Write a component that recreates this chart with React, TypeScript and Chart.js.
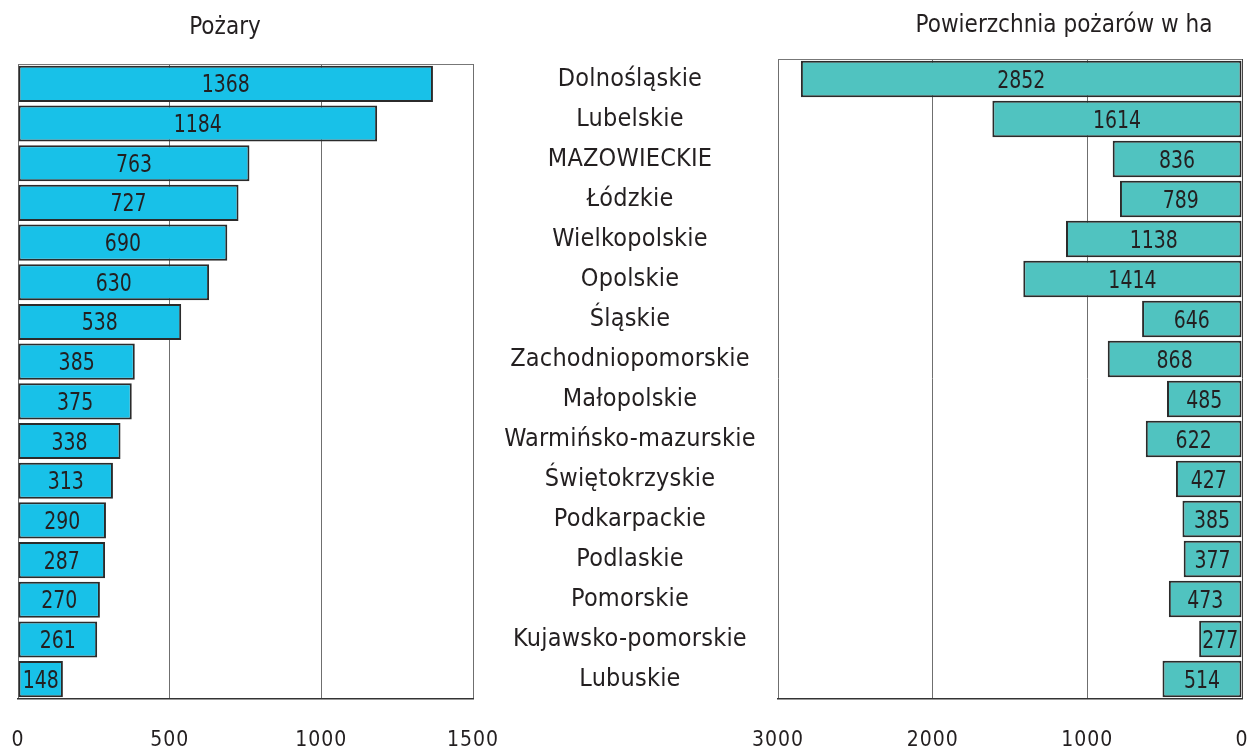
import React, { useEffect, useRef } from 'react';
import { Chart, registerables } from 'chart.js';

Chart.register(...registerables);

const regions = [
  'Dolnośląskie',
  'Lubelskie',
  'MAZOWIECKIE',
  'Łódzkie',
  'Wielkopolskie',
  'Opolskie',
  'Śląskie',
  'Zachodniopomorskie',
  'Małopolskie',
  'Warmińsko-mazurskie',
  'Świętokrzyskie',
  'Podkarpackie',
  'Podlaskie',
  'Pomorskie',
  'Kujawsko-pomorskie',
  'Lubuskie',
];
const fireCounts = [1368, 1184, 763, 727, 690, 630, 538, 385, 375, 338, 313, 290, 287, 270, 261, 148];
const burnedArea = [2852, 1614, 836, 789, 1138, 1414, 646, 868, 485, 622, 427, 385, 377, 473, 277, 514];
const fireTicks = [0, 500, 1000, 1500];
const areaTicks = [0, 1000, 2000, 3000];
const fireTitle = 'Pożary';
const areaTitle = 'Powierzchnia pożarów w ha';

const FONT = '"DejaVu Sans Condensed", "Liberation Sans Narrow", sans-serif';
const TEXT = '#231f20';
const CAT_SIZE = 25;

const spacingPlugin = {
  id: 'spacing',
  beforeDraw(chart: any) {
    chart.ctx.letterSpacing = '1px';
  },
  beforeDatasetsDraw(chart: any) {
    chart.ctx.letterSpacing = '0.2px';
  },
  afterDraw(chart: any) {
    chart.ctx.letterSpacing = '0px';
  },
};

const framePlugin = {
  id: 'frame',
  beforeDatasetsDraw(chart: any) {
    const { ctx, chartArea } = chart;
    ctx.save();
    ctx.strokeStyle = '#777';
    ctx.lineWidth = 1;
    ctx.beginPath();
    ctx.moveTo(chartArea.left, chartArea.top + 0.5);
    ctx.lineTo(chartArea.right, chartArea.top + 0.5);
    ctx.stroke();
    ctx.restore();
  },
};

const valueLabels = {
  id: 'valueLabels',
  afterDatasetsDraw(chart: any) {
    const ctx = chart.ctx;
    const meta = chart.getDatasetMeta(0);
    const data = chart.data.datasets[0].data;
    const sx = 0.84;
    ctx.save();
    ctx.letterSpacing = '0px';
    ctx.font = `25px ${FONT}`;
    ctx.fillStyle = TEXT;
    ctx.textAlign = 'center';
    ctx.textBaseline = 'middle';
    ctx.scale(sx, 1);
    meta.data.forEach((bar: any, i: number) => {
      const { x, base, y } = bar.getProps(['x', 'base', 'y'], true);
      ctx.fillText(String(data[i]), (x + base) / 2 / sx, y + 2);
    });
    ctx.restore();
  },
};

const zeroPad = (s: any) => {
  s.paddingLeft = 0;
  s.paddingRight = 0;
  s.paddingTop = 0;
  s.paddingBottom = 0;
};

function makeConfig(
  values: number[],
  color: string,
  ticks: number[],
  max: number,
  reverse: boolean,
  showLabels: boolean,
  padding: any,
  yWidth: number,
  yPad: number
) {
  return {
    type: 'bar' as const,
    data: {
      labels: regions,
      datasets: [
        {
          data: values,
          backgroundColor: color,
          borderColor: '#2b2b2b',
          borderWidth: 2,
          borderSkipped: false,
          barPercentage: 0.91,
          categoryPercentage: 1,
        },
      ],
    },
    options: {
      indexAxis: 'y' as const,
      responsive: false,
      animation: false as const,
      layout: { padding },
      plugins: {
        legend: { display: false },
        title: { display: false },
        tooltip: { enabled: false },
      },
      scales: {
        x: {
          min: 0,
          max,
          reverse,
          afterBuildTicks: (s: any) => {
            s.ticks = ticks.map((v) => ({ value: v }));
          },
          afterFit: (s: any) => {
            s.height = 51;
            zeroPad(s);
          },
          grid: {
            color: (c: any) => (reverse && c.tick && c.tick.value === 0 ? '#444' : '#6f6f6f'),
            lineWidth: 1,
            drawTicks: false,
          },
          border: { display: true, color: '#333', width: 1.5 },
          ticks: {
            padding: 29,
            color: TEXT,
            font: { family: FONT, size: 21 },
            maxRotation: 0,
            autoSkip: false,
            callback: (v: any) => String(v),
          },
        },
        y: {
          display: showLabels,
          afterFit: (s: any) => {
            if (showLabels) s.width = yWidth;
            zeroPad(s);
          },
          grid: { display: false, drawTicks: false },
          border: { display: false },
          ticks: {
            z: 1,
            crossAlign: 'center' as const,
            padding: yPad,
            autoSkip: false,
            color: TEXT,
            font: { family: FONT, size: CAT_SIZE },
          },
        },
      },
    },
    plugins: [spacingPlugin, framePlugin, valueLabels],
  };
}

const RIGHT_LEFT = 470;

export default function App() {
  const leftRef = useRef<HTMLCanvasElement>(null);
  const rightRef = useRef<HTMLCanvasElement>(null);

  useEffect(() => {
    const m = document.createElement('canvas').getContext('2d') as CanvasRenderingContext2D;
    m.font = `${CAT_SIZE}px ${FONT}`;
    const widest = Math.max(...regions.map((r) => m.measureText(r).width));
    const yWidth = 778 - RIGHT_LEFT;
    const centerRel = 630 - RIGHT_LEFT;
    const yPad = Math.max(0, yWidth - centerRel - widest / 2);

    const left = new Chart(
      leftRef.current as HTMLCanvasElement,
      makeConfig(fireCounts, '#18c1e8', fireTicks, 1500, false, false, { left: 18, right: 27, top: 64, bottom: 0 }, 0, 0) as any
    );
    const right = new Chart(
      rightRef.current as HTMLCanvasElement,
      makeConfig(burnedArea, '#50c3c0', areaTicks, 3000, true, true, { left: 0, right: 8, top: 59, bottom: 0 }, yWidth, yPad) as any
    );
    return () => {
      left.destroy();
      right.destroy();
    };
  }, []);

  const titleStyle: React.CSSProperties = {
    position: 'absolute',
    top: 12,
    height: 28,
    lineHeight: '28px',
    fontFamily: FONT,
    fontSize: 24,
    color: TEXT,
    textAlign: 'center',
    whiteSpace: 'nowrap',
  };

  return (
    <div style={{ position: 'fixed', left: 0, top: 0, width: 1250, height: 750, overflow: 'hidden', background: '#fff' }}>
      <canvas ref={leftRef} width={500} height={750} style={{ position: 'absolute', left: 0, top: 0 }} />
      <canvas ref={rightRef} width={1250 - RIGHT_LEFT} height={750} style={{ position: 'absolute', left: RIGHT_LEFT, top: 0 }} />
      <div style={{ ...titleStyle, left: 125, width: 200 }}>{fireTitle}</div>
      <div style={{ ...titleStyle, left: 894, width: 340, top: 10 }}>{areaTitle}</div>
    </div>
  );
}
